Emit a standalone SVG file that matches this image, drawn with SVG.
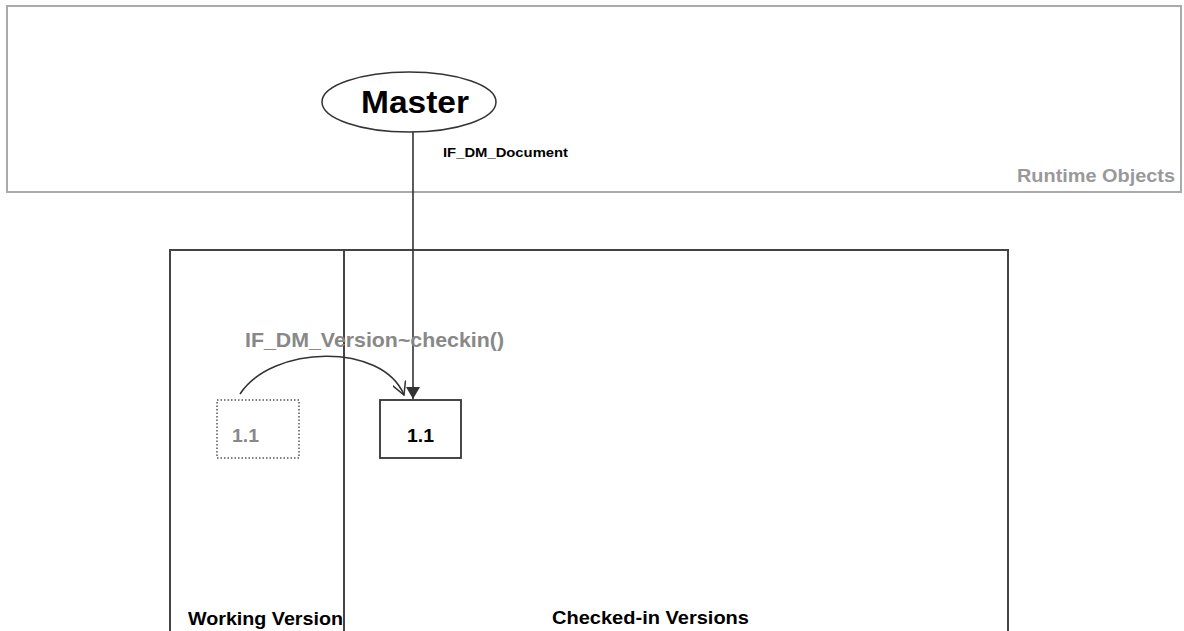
<svg xmlns="http://www.w3.org/2000/svg" width="1184" height="631" viewBox="0 0 1184 631">
<style>
  text { font-family: "Liberation Sans", Arial, sans-serif; font-weight: bold; }
  .frame-top { fill: none; stroke: #aaaaaa; stroke-width: 2; }
  .frame { fill: none; stroke: #444444; stroke-width: 2; }
  .conn { fill: none; stroke: #333333; stroke-width: 1.6; }
</style>
<defs>
  <marker id="filled" viewBox="0 0 12 14" refX="12" refY="7" markerWidth="12" markerHeight="14" markerUnits="userSpaceOnUse" orient="auto">
    <path d="M0,0 L12,7 L0,14 Z" fill="#333333"/>
  </marker>
  <marker id="open" viewBox="0 0 14 14" refX="13" refY="7" markerWidth="14" markerHeight="14" markerUnits="userSpaceOnUse" orient="auto">
    <path d="M0,0 L13,7 L0,14" fill="none" stroke="#333333" stroke-width="1.5"/>
  </marker>
</defs>

<g id="runtime-objects">
  <rect class="frame-top" x="7" y="6" width="1174" height="186"/>
  <text x="1017" y="182" font-size="19" fill="#999999" textLength="158" lengthAdjust="spacingAndGlyphs">Runtime Objects</text>
</g>

<g id="versions-frame">
  <path class="frame" d="M170,640 L170,250 L1008,250 L1008,640"/>
  <line class="frame" x1="344" y1="250" x2="344" y2="640"/>
  <text x="188" y="625" font-size="19" textLength="155" lengthAdjust="spacingAndGlyphs">Working Version</text>
  <text x="552" y="624" font-size="19" textLength="197" lengthAdjust="spacingAndGlyphs">Checked-in Versions</text>
</g>

<g id="master">
  <ellipse cx="409" cy="102" rx="87" ry="30" fill="#ffffff" stroke="#333333" stroke-width="1.5"/>
  <text x="361" y="113" font-size="31" fill="#000000" textLength="108" lengthAdjust="spacingAndGlyphs">Master</text>
</g>

<g id="working-1-1">
  <rect x="217" y="400" width="82" height="58" fill="none" stroke="#555555" stroke-width="1.5" stroke-dasharray="1.5,2"/>
  <text x="232" y="442" font-size="19" fill="#888888" textLength="27" lengthAdjust="spacingAndGlyphs">1.1</text>
</g>

<g id="checked-in-1-1">
  <rect x="380" y="400" width="81" height="58" fill="#ffffff" stroke="#333333" stroke-width="1.8"/>
  <text x="407" y="442" font-size="19" fill="#000000" textLength="27" lengthAdjust="spacingAndGlyphs">1.1</text>
</g>

<g id="connectors">
  <line class="conn" x1="413" y1="132" x2="413" y2="399" marker-end="url(#filled)"/>
  <text x="443" y="157" font-size="13.5" textLength="125" lengthAdjust="spacingAndGlyphs">IF_DM_Document</text>
  <path class="conn" d="M240,394 C272,345 382,342 404,395" marker-end="url(#open)"/>
  <text x="245" y="347" font-size="21" fill="#888888" textLength="259" lengthAdjust="spacingAndGlyphs">IF_DM_Version~checkin()</text>
</g>
</svg>
